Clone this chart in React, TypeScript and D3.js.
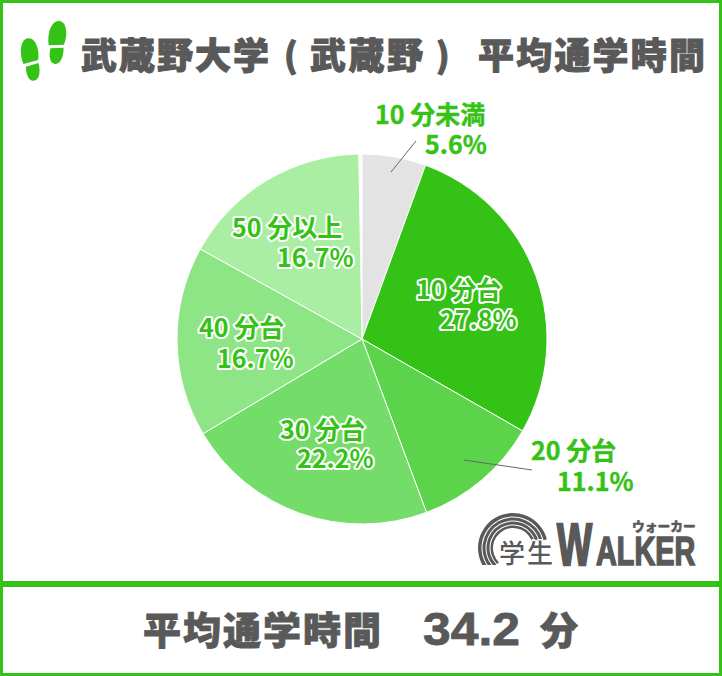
import React from 'react';
import * as d3 from 'd3';

const categories = ['10 分未満', '10 分台', '20 分台', '30 分台', '40 分台', '50 分以上'];
const shares = [5.6, 27.8, 11.1, 22.2, 16.7, 16.7];
const sliceColors = ['#e3e3e3', '#34c216', '#5bd34a', '#74dc68', '#8de586', '#a9eea2'];
const titleParts = ['武蔵野大学', '(', '武蔵野', ')', '平均通学時間'];
const summaryLabel = '平均通学時間';
const summaryNumber = '34.2';
const summaryUnit = '分';

const WIDTH = 722;
const HEIGHT = 676;
const GREEN = '#34c216';
const GRAY = '#595959';
const FONT = '"Noto Sans CJK JP", sans-serif';
const LATIN = '"Liberation Sans", sans-serif';

const cx = 362;
const cy = 339;
const radius = 185;

// label placement, by slice
const labelPos = [
  { x1: 375, y1: 124, x2: 425, y2: 154, outside: true },
  { x1: 416, y1: 299, x2: 440, y2: 329, outside: false },
  { x1: 531, y1: 460, x2: 557, y2: 491, outside: true },
  { x1: 280, y1: 439, x2: 297, y2: 468, outside: false },
  { x1: 199, y1: 337, x2: 217, y2: 368, outside: false },
  { x1: 232, y1: 237, x2: 277, y2: 267, outside: false },
];

const Footprint = ({ x, y, rot }: { x: number; y: number; rot: number }) => (
  <g transform={`translate(${x},${y}) rotate(${rot})`} fill={GREEN}>
    <path d="M-8,3 C-11,-8 -8,-22 0,-22 C8,-22 10,-8 7,1 Z" />
    <path d="M-6,6 L7,4 C8,12 6,21 0,21 C-5,21 -7,14 -6,6 Z" />
  </g>
);

export default function App() {
  // the source pie stops a degree short of closing, leaving a gap at the top
  const pie = d3.pie<number>().sort(null).value(d => d).endAngle((2 * Math.PI * 359) / 360);
  const arc = d3.arc<d3.PieArcDatum<number>>().innerRadius(0).outerRadius(radius);
  const arcs = pie(shares);

  // rainbow bands of the logo
  const logoArc = d3.arc();
  const logoRadii = [[31.5, 35], [27.5, 30.5], [23.5, 26.5], [20, 22.5]];

  return (
    <svg
      width={WIDTH}
      height={HEIGHT}
      viewBox={`0 0 ${WIDTH} ${HEIGHT}`}
      style={{ position: 'absolute', left: 0, top: 0, background: '#fff' }}
      fontFamily={FONT}
    >
      <rect x={1.5} y={1.5} width={WIDTH - 3} height={HEIGHT - 3} fill="none" stroke={GREEN} strokeWidth={3} />
      <rect x={0} y={581} width={WIDTH} height={6} fill={GREEN} />

      <Footprint x={31} y={60} rot={-8} />
      <Footprint x={57} y={43} rot={6} />

      <g fill={GRAY} stroke={GRAY} strokeWidth={1} fontWeight={900} fontSize={36}>
        <text x={81} y={69} textLength={188} lengthAdjust="spacing">{titleParts[0]}</text>
        <text x={284} y={68} fontSize={34}>{titleParts[1]}</text>
        <text x={310} y={69} textLength={113} lengthAdjust="spacing">{titleParts[2]}</text>
        <text x={436} y={68} fontSize={34}>{titleParts[3]}</text>
        <text x={478} y={69} textLength={227} lengthAdjust="spacing">{titleParts[4]}</text>
      </g>

      <g transform={`translate(${cx},${cy})`}>
        {arcs.map((d, i) => (
          <path key={categories[i]} d={arc(d) ?? ''} fill={sliceColors[i]} stroke="#fff" strokeWidth={1} />
        ))}
      </g>

      <line x1={416} y1={141} x2={391} y2={172} stroke="#666" strokeWidth={1} />
      <line x1={464} y1={460} x2={532} y2={470} stroke="#666" strokeWidth={1} />

      {categories.map((c, i) => {
        const p = labelPos[i];
        const outline = p.outside
          ? { stroke: GREEN, strokeWidth: 0.4 }
          : { stroke: '#fff', strokeWidth: 4, paintOrder: 'stroke' as const, strokeLinejoin: 'round' as const };
        return (
          <text key={c} fill={GREEN} fontWeight={700} fontSize={25} {...outline}>
            <tspan x={p.x1} y={p.y1}>{c}</tspan>
            <tspan x={p.x2} y={p.y2}>{shares[i].toFixed(1)}%</tspan>
          </text>
        );
      })}

      <defs>
        <clipPath id="logo-clip">
          <rect x={470} y={505} width={90} height={60} />
        </clipPath>
      </defs>
      <g clipPath="url(#logo-clip)">
        {logoRadii.map(([r0, r1]) => (
          <path
            key={r0}
            transform="translate(513,548)"
            fill={GRAY}
            d={logoArc({ innerRadius: r0, outerRadius: r1, startAngle: -Math.PI * 0.75, endAngle: Math.PI * 0.42 }) ?? ''}
          />
        ))}
      </g>
      <text x={499} y={563} fontSize={26} fontWeight={500} fill={GRAY} stroke="#fff" strokeWidth={3} paintOrder="stroke" textLength={54}>学生</text>
      <g fontWeight={700} fontFamily={LATIN} fill={GRAY} stroke={GRAY}>
        <text transform="translate(557,565) scale(0.62,1)" fontSize={60} strokeWidth={2.4}>W</text>
        <text transform="translate(596,565) scale(0.72,1)" fontSize={40} strokeWidth={1.6}>ALKER</text>
      </g>
      <text transform="translate(632,531) scale(0.98,1)" fontSize={13} fontWeight={900} fill={GRAY} stroke={GRAY} strokeWidth={0.4}>ウォーカー</text>

      <g fill={GRAY} stroke={GRAY} strokeWidth={0.8}>
        <text x={143} y={644} fontSize={38} fontWeight={900} textLength={238} lengthAdjust="spacing">{summaryLabel}</text>
        <text x={423} y={645} fontSize={46} fontWeight={700} fontFamily={LATIN} textLength={97} lengthAdjust="spacingAndGlyphs">{summaryNumber}</text>
        <text x={540} y={644} fontSize={38} fontWeight={900}>{summaryUnit}</text>
      </g>
    </svg>
  );
}
